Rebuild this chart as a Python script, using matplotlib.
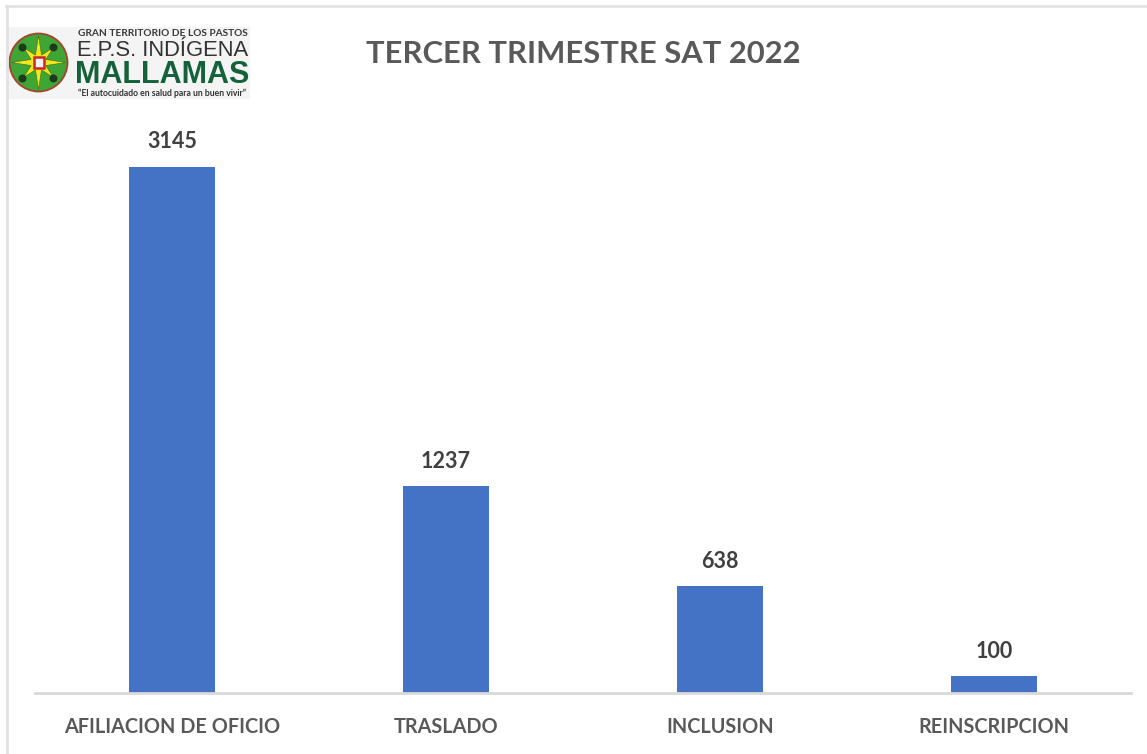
import numpy as np
import matplotlib
matplotlib.use("Agg")
import matplotlib.pyplot as plt
from matplotlib.patches import Circle, Polygon, Rectangle

categories = ["AFILIACION DE OFICIO", "TRASLADO", "INCLUSION", "REINSCRIPCION"]
values = [3145, 1237, 638, 100]
title = "TERCER TRIMESTRE SAT 2022"

W, H = 1147, 754
plt.rcParams["font.family"] = ["Lato", "DejaVu Sans"]
fig = plt.figure(figsize=(W / 100, H / 100), dpi=100, facecolor="white")

def rect(x0, y_top, x1, y_bot):
    return [x0 / W, 1 - y_bot / H, (x1 - x0) / W, (y_bot - y_top) / H]

# Screenshot frame
fig.add_artist(plt.Line2D([6.5 / W, 6.5 / W], [0, 1 - 6 / H], color="#e2e2e2", lw=2))
fig.add_artist(plt.Line2D([6 / W, 1], [1 - 6 / H, 1 - 6 / H], color="#e2e2e2", lw=2))

# Chart
ax = fig.add_axes(rect(35, 110, 1131, 693))
ax.bar(range(len(values)), values, width=0.316, color="#4472C4", zorder=2)
ax.set_xlim(-0.5, len(values) - 0.5)
ax.set_ylim(0, 583 / 0.16725)
ax.set_xticks(range(len(values)))
ax.set_xticklabels(categories, fontsize=14.3, fontweight="bold", color="#595959")
ax.tick_params(axis="x", length=0, pad=17)
ax.set_yticks([])
for s in ["top", "left", "right"]:
    ax.spines[s].set_visible(False)
ax.spines["bottom"].set_color("#d9d9d9")
ax.spines["bottom"].set_linewidth(2)
for i, v in enumerate(values):
    ax.annotate(str(v), (i, v), xytext=(0, 10.5), textcoords="offset points",
                ha="center", va="bottom", fontsize=15.5, fontweight="bold", color="#404040")

fig.text(583.5 / W, 1 - 54 / H, title, ha="center", va="center",
         fontsize=22.3, fontweight="bold", color="#595959")

# Logo
lg = fig.add_axes(rect(7, 27, 250, 99))
lg.set_xlim(7, 250)
lg.set_ylim(99, 27)
lg.axis("off")
lg.add_patch(Rectangle((7, 27), 243, 72, color="#f4f4f4", lw=0))
lg.add_patch(Circle((38.5, 62.5), 29, facecolor="#3fa535", edgecolor="#a5432f", lw=1.3))
n = 16
ang = np.arange(n) * 2 * np.pi / n - np.pi / 2
rad = np.select([np.arange(n) % 4 == 0, np.arange(n) % 2 == 0], [27, 21], default=8)
lg.add_patch(Polygon(np.c_[38.5 + rad * np.cos(ang), 62.5 + rad * np.sin(ang)],
                     facecolor="#f2e61c", edgecolor="#3c6e20", lw=0.4))
lg.add_patch(Rectangle((33.5, 57), 10, 11, facecolor="#f0f0f0", edgecolor="#cc2a2a", lw=1.8))
for dx, dy in [(-16, -15), (15, -15), (-16, 16), (15, 16)]:
    lg.add_patch(Circle((38.5 + dx, 62.5 + dy), 4, color="#1d3a1d", lw=0))
lg.text(162.5, 33, "GRAN TERRITORIO DE LOS PASTOS", ha="center", va="center",
        fontsize=7.3, fontweight="bold", color="#3a3a3a")
lg.text(162.5, 50, "E.P.S. INDÍGENA", ha="center", va="center",
        fontsize=15.8, color="#333333", family="Liberation Sans")
lg.text(162.5, 75, "MALLAMAS", ha="center", va="center", fontsize=22,
        fontweight="bold", color="#14613a", family="Liberation Sans")
lg.text(162.5, 93, "\u201cEl autocuidado en salud para un buen vivir\u201d", ha="center", va="center",
        fontsize=6.2, fontweight="bold", color="#333333")

fig.savefig("out.png", dpi=100)
